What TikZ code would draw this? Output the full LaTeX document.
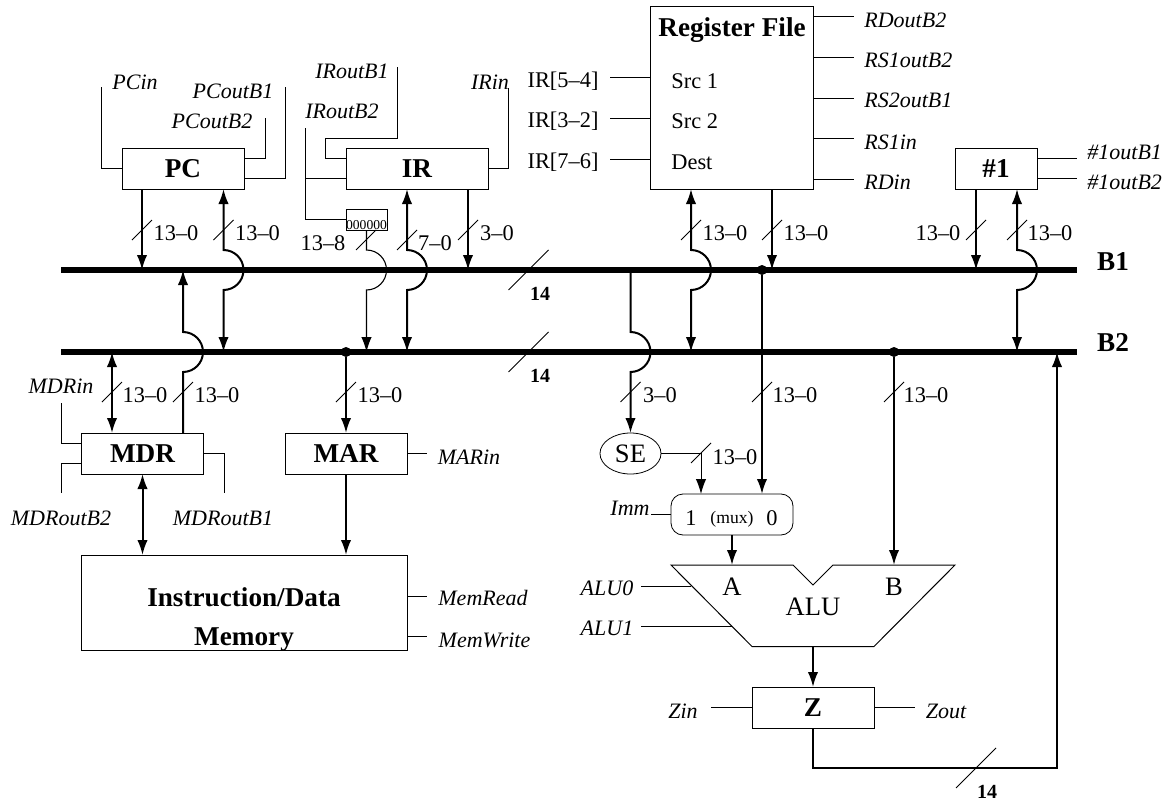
\documentclass[tikz,border=0pt]{standalone}
\usepackage{fontspec}
\setmainfont{Liberation Serif}
\usetikzlibrary{arrows.meta, shapes.geometric}
\newcommand{\hop}{arc[start angle=-90, end angle=90, radius=20]}
\newcommand{\wiretick}[2]{\draw[tickmark] (#1,#2) ++(-10,10) -- ++(20,-20);}
\newcommand{\bustick}[2]{\draw[tickmark] (#1,#2) ++(-20,20) -- ++(40,-40);}
\tikzset{
  regbox/.style={draw, rectangle, minimum width=61pt, minimum height=20.5pt, inner sep=0pt, outer sep=0pt, font=\fontsize{13.6}{15}\selectfont\bfseries},
  lbl/.style={inner sep=0pt, font=\fontsize{11.2}{13}\selectfont},
  sig/.style={inner sep=0pt, font=\fontsize{11}{13}\selectfont\itshape},
  big/.style={inner sep=0pt, font=\fontsize{13.3}{15}\selectfont},
  bold/.style={inner sep=0pt, font=\fontsize{13.6}{15}\selectfont\bfseries},
  boldsmall/.style={inner sep=0pt, font=\fontsize{10}{12}\selectfont\bfseries},
  wire/.style={line width=0.5pt},
  thinbus/.style={line width=0.55pt},
  data/.style={line width=1pt},
  busline/.style={line width=3pt},
  tickmark/.style={line width=0.45pt},
  dotmark/.style={circle, fill=black, inner sep=0pt, minimum size=5pt}
}
\begin{document}
\begin{tikzpicture}[x=0.5pt, y=-0.5pt, >={Latex[length=7.5pt,width=5.2pt]}]
  \useasboundingbox (0,0) rectangle (1175,803);
  % buses
  \coordinate (busAw) at (61,270);
  \coordinate (busAe) at (1077,270);
  \coordinate (busBw) at (61,352);
  \coordinate (busBe) at (1077,352);
  % registers
  \node[regbox] (PC) at (183,168.5) {PC};
  \node[regbox, minimum width=71pt] (IR) at (417,168.5) {IR};
  \node[regbox, minimum width=41pt] (One) at (996,168.5) {\#1};
  \node[regbox] (MDR) at (142.5,453.5) {MDR};
  \node[regbox] (MAR) at (346,453.5) {MAR};
  \node[regbox] (Z) at (813,707.5) {Z};
  \node[draw, inner sep=0pt, outer sep=0pt, minimum width=163pt, minimum height=47.5pt] (Mem) at (244,602.5) {};
  \node[draw, inner sep=0pt, outer sep=0pt, minimum width=81.5pt, minimum height=91.5pt] (RF) at (731.5,97.5) {};
  \node[draw, inner sep=0pt, outer sep=0pt, minimum width=20.5pt, minimum height=10.5pt] (SHR) at (366.5,219.5) {};
  \node[draw, ellipse, inner sep=0pt, outer sep=0pt, minimum width=30.5pt, minimum height=20.5pt, font=\fontsize{13.3}{15}\selectfont] (SE) at (630.5,453.5) {SE};
  \node[draw, rounded corners=6pt, inner sep=0pt, outer sep=0pt, minimum width=61pt, minimum height=20.5pt] (mux) at (732,514.5) {};
  % texts inside boxes
  \node[bold] (memtop) at (244,597) {Instruction/Data};
  \node[bold] (membot) at (244,640) {Memory};
  \node[bold] (rftitle) at (732,30) {Register File};
  \node[lbl, anchor=west] (srcone) at (671,81) {Src 1};
  \node[lbl, anchor=west] (srctwo) at (671,121) {Src 2};
  \node[lbl, anchor=west] (dest) at (671,162) {Dest};
  \node[inner sep=0pt, font=\fontsize{6.8}{8}\selectfont] (shrbits) at (366.5,225) {000000};
  \node[lbl] (muxone) at (691,518) {1};
  \node[inner sep=0pt, font=\fontsize{8.8}{10}\selectfont] (muxname) at (732,519) {(mux)};
  \node[lbl] (muxzero) at (772,518) {0};
  % ALU
  \draw[wire] (671,565) -- (793,565) -- (813,585) -- (833,565) -- (955,565) -- (874,646.5) -- (752,646.5) -- cycle;
  \coordinate (aluA) at (732,565);
  \coordinate (aluOut) at (813,646.5);
  \node[big] (aluinA) at (732,587) {A};
  \node[big] (aluinB) at (894,587) {B};
  \node[big] (aluname) at (813,607) {ALU};
  % control signal labels
  \node[sig] (lPCin) at (135,82) {PCin};
  \node[sig] (lPCoutA) at (233,91) {PCoutB1};
  \node[sig] (lPCoutB) at (212,121) {PCoutB2};
  \node[sig] (lIRoutA) at (352,71) {IRoutB1};
  \node[sig] (lIRoutB) at (342,111) {IRoutB2};
  \node[sig] (lIRin) at (490,82) {IRin};
  \node[sig] (lMDRin) at (61,386) {MDRin};
  \node[sig] (lMDRoutB) at (61,518) {MDRoutB2};
  \node[sig] (lMDRoutA) at (223,518) {MDRoutB1};
  \node[sig] (lMARin) at (469,457) {MARin};
  \node[sig] (lMemR) at (483,598) {MemRead};
  \node[sig] (lMemW) at (484.5,640) {MemWrite};
  \node[sig, anchor=west] (lRDoutB) at (864,20) {RDoutB2};
  \node[sig, anchor=west] (lRSoutB) at (864,60) {RS1outB2};
  \node[sig, anchor=west] (lRStwoA) at (864,100) {RS2outB1};
  \node[sig, anchor=west] (lRSin) at (864,142) {RS1in};
  \node[sig, anchor=west] (lRDin) at (864,182) {RDin};
  \node[sig, anchor=west] (lOneA) at (1087,152) {\#1outB1};
  \node[sig, anchor=west] (lOneB) at (1087,182) {\#1outB2};
  \node[sig] (lImm) at (630,508) {Imm};
  \node[sig] (lALUzero) at (607,588) {ALU0};
  \node[sig] (lALUone) at (607,628) {ALU1};
  \node[sig] (lZin) at (683,711) {Zin};
  \node[sig] (lZout) at (946,711) {Zout};
  \node[lbl] (lIRa) at (563,81) {IR[5--4]};
  \node[lbl] (lIRb) at (563,121) {IR[3--2]};
  \node[lbl] (lIRc) at (563,162) {IR[7--6]};
  % bit range labels
  \node[lbl] (wPCa) at (176,233) {13--0};
  \node[lbl] (wPCb) at (257.5,233) {13--0};
  \node[lbl] (wSHR) at (323,243) {13--8};
  \node[lbl] (wIRa) at (435,243) {7--0};
  \node[lbl] (wIRb) at (497,233) {3--0};
  \node[lbl] (wRFa) at (725,233) {13--0};
  \node[lbl] (wRFb) at (806,233) {13--0};
  \node[lbl] (wOnea) at (938,233) {13--0};
  \node[lbl] (wOneb) at (1050,233) {13--0};
  \node[lbl] (wMDRa) at (145,395) {13--0};
  \node[lbl] (wMDRb) at (217,395) {13--0};
  \node[lbl] (wMAR) at (380,395) {13--0};
  \node[lbl] (wSE) at (660,395) {3--0};
  \node[lbl] (wMux) at (795,395) {13--0};
  \node[lbl] (wALUb) at (926,395) {13--0};
  \node[lbl] (wSEout) at (735,457) {13--0};
  \node[boldsmall] (wBusA) at (540,294) {14};
  \node[boldsmall] (wBusB) at (540,376) {14};
  \node[boldsmall] (wBack) at (987,792) {14};
  \node[bold] (labA) at (1113,262) {B1};
  \node[bold] (labB) at (1113,343) {B2};
  % control wires
  \coordinate (endPCin) at (101,87);
  \coordinate (endPCoutA) at (285,87);
  \coordinate (endPCoutB) at (265,118);
  \coordinate (cornerIR) at (325,138);
  \coordinate (endIRoutA) at (397,67);
  \coordinate (endIRoutB) at (305,128);
  \coordinate (endIRin) at (508,88);
  \coordinate (endMDRin) at (61,403);
  \coordinate (endMDRoutB) at (61,493);
  \coordinate (endMDRoutA) at (224,493);
  \draw[wire] (PC.west) -| (endPCin);
  \draw[wire] ([yshift=-5pt]PC.east) -| (endPCoutA);
  \draw[wire] ([yshift=5pt]PC.east) -| (endPCoutB);
  \draw[wire] ([yshift=5pt]IR.west) -| (cornerIR) -| (endIRoutA);
  \draw[wire] (SHR.west) -| (endIRoutB);
  \draw[wire] ([yshift=-5pt]IR.west) -- ++(-41,0);
  \draw[wire] (IR.east) -| (endIRin);
  \draw[wire] ([yshift=5pt]MDR.west) -| (endMDRin);
  \draw[wire] ([yshift=-5pt]MDR.west) -| (endMDRoutB);
  \draw[wire] (MDR.east) -| (endMDRoutA);
  \draw[wire] (MAR.east) -- ++(20,0);
  \coordinate (stubR) at (427,596);
  \coordinate (stubW) at (427,636);
  \draw[wire] (stubR -| Mem.east) -- (stubR);
  \draw[wire] (stubW -| Mem.east) -- (stubW);
  % register file control
  \coordinate (stubSa) at (610,77);
  \coordinate (stubSb) at (610,118);
  \coordinate (stubSc) at (610,159);
  \draw[wire] (stubSa) -- (stubSa -| RF.west);
  \draw[wire] (stubSb) -- (stubSb -| RF.west);
  \draw[wire] (stubSc) -- (stubSc -| RF.west);
  \coordinate (stubRa) at (854,16);
  \coordinate (stubRb) at (854,57);
  \coordinate (stubRc) at (854,98);
  \coordinate (stubRd) at (854,138);
  \coordinate (stubRe) at (854,179);
  \draw[wire] (stubRa -| RF.east) -- (stubRa);
  \draw[wire] (stubRb -| RF.east) -- (stubRb);
  \draw[wire] (stubRc -| RF.east) -- (stubRc);
  \draw[wire] (stubRd -| RF.east) -- (stubRd);
  \draw[wire] (stubRe -| RF.east) -- (stubRe);
  \draw[wire] ([yshift=5pt]One.east) -- ++(40,0);
  \draw[wire] ([yshift=-5pt]One.east) -- ++(40,0);
  \coordinate (stubImm) at (651,514.5);
  \coordinate (aluzeroS) at (641,586);
  \coordinate (aluzeroE) at (691,586);
  \coordinate (aluoneS) at (641,626);
  \coordinate (aluoneE) at (732,626);
  \draw[wire] (stubImm) -- (mux.west);
  \draw[wire] (aluzeroS) -- (aluzeroE);
  \draw[wire] (aluoneS) -- (aluoneE);
  \draw[wire] (Z.west) -- ++(-41,0);
  \draw[wire] (Z.east) -- ++(41,0);
  % data paths
  \coordinate (tapPC) at (142,270);
  \coordinate (hopPC) at (223.5,250);
  \coordinate (hopIR) at (407,250);
  \coordinate (hopSH) at (366.5,250);
  \coordinate (tapIR) at (468,270);
  \coordinate (hopRF) at (691,250);
  \coordinate (tapRF) at (772,270);
  \coordinate (tapOne) at (976,270);
  \coordinate (hopOne) at (1017,250);
  \coordinate (tapMDR) at (112,352);
  \coordinate (hopMDR) at (183,332);
  \coordinate (hopSE) at (630.5,332);
  \coordinate (muxIn) at (701,494);
  \coordinate (backCorner) at (1057,768);
  \node[dotmark] (dotRF) at (762,270) {};
  \node[dotmark] (dotMAR) at (346,352) {};
  \node[dotmark] (dotB) at (894,352) {};
  \coordinate (aluB) at (894,565);
  \draw[data,->] (tapPC |- PC.south) -- (tapPC);
  \draw[data,<->] (hopPC |- PC.south) -- (hopPC) \hop -- (hopPC |- busBw);
  \draw[thinbus,->] (SHR.south) -- (hopSH) \hop -- (hopSH |- busBw);
  \draw[data,<->] (hopIR |- IR.south) -- (hopIR) \hop -- (hopIR |- busBw);
  \draw[data,->] (tapIR |- IR.south) -- (tapIR);
  \draw[data,<->] (hopRF |- RF.south) -- (hopRF) \hop -- (hopRF |- busBw);
  \draw[data,->] (tapRF |- RF.south) -- (tapRF);
  \draw[data,->] (tapOne |- One.south) -- (tapOne);
  \draw[data,<->] (hopOne |- One.south) -- (hopOne) \hop -- (hopOne |- busBw);
  \draw[data,<->] (tapMDR) -- (tapMDR |- MDR.north);
  \draw[data,<-] (hopMDR |- busAw) -- (hopMDR) \hop -- (hopMDR |- MDR.north);
  \draw[data,->] (dotMAR) -- (MAR.north);
  \draw[data,<->] (MDR.south) -- (MDR.south |- Mem.north);
  \draw[data,->] (MAR.south) -- (MAR.south |- Mem.north);
  \draw[data,->] (hopSE |- busAw) -- (hopSE) \hop -- (SE.north);
  \draw[wire,->] (SE.east) -| (muxIn);
  \draw[data,->] (dotRF) -- (dotRF |- mux.north);
  \draw[data,->] (mux.south) -- (aluA);
  \draw[data,->] (dotB) -- (aluB);
  \draw[data,->] (aluOut) -- (Z.north);
  \draw[data,->] (Z.south) |- (backCorner) -- (backCorner |- busBw);
  \draw[busline] (busAw) -- (busAe);
  \draw[busline] (busBw) -- (busBe);
  % width marks
  \wiretick{142}{230}
  \wiretick{223.5}{230}
  \wiretick{366}{240}
  \wiretick{407}{240}
  \wiretick{468}{230}
  \wiretick{691}{230}
  \wiretick{772}{230}
  \wiretick{976}{230}
  \wiretick{1017}{230}
  \wiretick{112}{392}
  \wiretick{183}{392}
  \wiretick{346}{392}
  \wiretick{630.5}{392}
  \wiretick{762}{392}
  \wiretick{894}{392}
  \wiretick{701}{453}
  \bustick{528.5}{270}
  \bustick{528.5}{352}
  \bustick{976}{768}
\end{tikzpicture}
\end{document}
